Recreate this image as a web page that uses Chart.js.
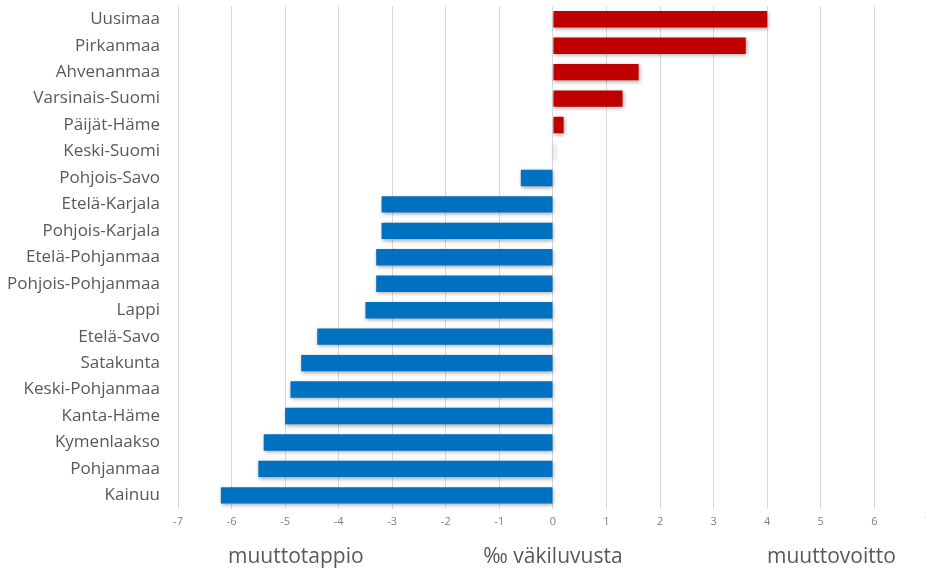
<!DOCTYPE html>
<html>
<head>
<meta charset="utf-8">
<script src="https://cdn.jsdelivr.net/npm/chart.js@4.4.1/dist/chart.umd.min.js"></script>
<style>
  html, body { margin: 0; padding: 0; background: #fff; overflow: hidden; }
  #wrap { position: relative; width: 938px; height: 571px; }
</style>
</head>
<body>
<div id="wrap"><canvas id="muutto"></canvas></div>
<script>
// Maakuntien nettomuutto, promillea väkiluvusta
const maakunnat = ['Uusimaa', 'Pirkanmaa', 'Ahvenanmaa', 'Varsinais-Suomi', 'Päijät-Häme',
    'Keski-Suomi', 'Pohjois-Savo', 'Etelä-Karjala', 'Pohjois-Karjala', 'Etelä-Pohjanmaa',
    'Pohjois-Pohjanmaa', 'Lappi', 'Etelä-Savo', 'Satakunta', 'Keski-Pohjanmaa',
    'Kanta-Häme', 'Kymenlaakso', 'Pohjanmaa', 'Kainuu'];
const nettomuutto = [4.0, 3.6, 1.6, 1.3, 0.2, 0.03, -0.6, -3.2, -3.2, -3.3,
    -3.3, -3.5, -4.4, -4.7, -4.9, -5.0, -5.4, -5.5, -6.2];
const xMin = -7, xMax = 7;

const punainen = '#C00000';
const sininen = '#0070C0';
const harmaa = '#595959';

// varjo palkeille
const varjo = {
    id: 'varjo',
    beforeDatasetsDraw(chart) {
        const ctx = chart.ctx;
        ctx.save();
        ctx.shadowColor = 'rgba(0,0,0,0.35)';
        ctx.shadowBlur = 4;
        ctx.shadowOffsetX = 1;
        ctx.shadowOffsetY = 1.5;
    },
    afterDatasetsDraw(chart) {
        chart.ctx.restore();
    }
};

// muuttotappio / muuttovoitto -tekstit akselin alle
const sivuotsikot = {
    id: 'sivuotsikot',
    afterDraw(chart) {
        const ctx = chart.ctx;
        const x = chart.scales.x;
        const y = x.bottom - 14;
        ctx.save();
        ctx.font = '21px "Open Sans", sans-serif';
        ctx.fillStyle = harmaa;
        ctx.textAlign = 'center';
        ctx.textBaseline = 'middle';
        ctx.fillText('muuttotappio', x.getPixelForValue(-4.8), y);
        ctx.fillText('muuttovoitto', x.getPixelForValue(5.2), y);
        ctx.restore();
    }
};

new Chart(document.getElementById('muutto'), {
    type: 'bar',
    data: {
        labels: maakunnat,
        datasets: [{
            data: nettomuutto,
            backgroundColor: nettomuutto.map(v => v > 0.1 ? punainen : (v < 0 ? sininen : '#e6e6e6')),
            borderWidth: 0,
            categoryPercentage: 1,
            barPercentage: 0.62
        }]
    },
    options: {
        indexAxis: 'y',
        responsive: true,
        maintainAspectRatio: false,
        animation: false,
        layout: { padding: { top: 6, left: 0, right: 0, bottom: 0 } },
        plugins: {
            legend: { display: false },
            tooltip: { enabled: false }
        },
        scales: {
            x: {
                min: xMin,
                max: xMax,
                ticks: {
                    stepSize: 1,
                    color: '#7f7f7f',
                    font: { size: 11, family: '"Open Sans", sans-serif' },
                    padding: 7
                },
                grid: { color: '#d9d9d9', drawTicks: false },
                border: { display: false },
                title: {
                    display: true,
                    text: '‰ väkiluvusta',
                    color: harmaa,
                    font: { size: 21, family: '"Open Sans", sans-serif' },
                    padding: { top: 9, bottom: 1 }
                }
            },
            y: {
                ticks: {
                    color: harmaa,
                    font: { size: 17, family: '"Open Sans", sans-serif' },
                    padding: 18,
                    autoSkip: false
                },
                grid: { display: false, drawTicks: false },
                border: { display: false },
                afterFit(scale) {
                    scale.width = 178;
                    scale.paddingTop = 0;
                    scale.paddingBottom = 0;
                }
            }
        }
    },
    plugins: [varjo, sivuotsikot]
});
</script>
</body>
</html>
